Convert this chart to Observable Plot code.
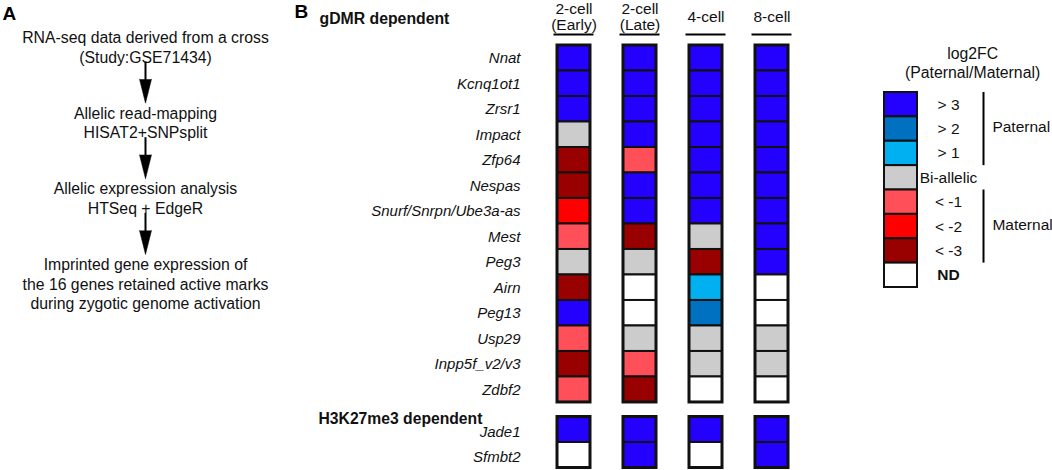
<!DOCTYPE html>
<html><head><meta charset="utf-8">
<script src="https://cdn.jsdelivr.net/npm/d3@7"></script>
<script src="https://cdn.jsdelivr.net/npm/@observablehq/plot@0.6"></script>
<style>
body{margin:0;background:#fff;}
#wrap{position:relative;width:1052px;height:470px;overflow:hidden;}
</style></head><body><div id="wrap"></div>
<script>
// ---- data ----
const stages = ["2-cell (Early)", "2-cell (Late)", "4-cell", "8-cell"];
const stageLabels = ["2-cell\n(Early)", "2-cell\n(Late)", "4-cell", "8-cell"];
const gdmrGenes = ["Nnat","Kcnq1ot1","Zrsr1","Impact","Zfp64","Nespas","Snurf/Snrpn/Ube3a-as","Mest","Peg3","Airn","Peg13","Usp29","Inpp5f_v2/v3","Zdbf2"];
const h3k27Genes = ["Jade1","Sfmbt2"];
const groupNames = ["gDMR dependent","H3K27me3 dependent"];
const levels = ["> 3","> 2","> 1","Bi-allelic","< -1","< -2","< -3","ND"];
const levelColors = ["#2400ff","#0070c0","#00b0f0","#cccccc","#ff4f58","#ff0000","#990000","#ffffff"];
const early = ["> 3","> 3","> 3","Bi-allelic","< -3","< -3","< -2","< -1","Bi-allelic","< -3","> 3","< -1","< -3","< -1","> 3","ND"];
const late  = ["> 3","> 3","> 3","> 3","< -1","> 3","> 3","< -3","Bi-allelic","ND","ND","Bi-allelic","< -1","< -3","> 3","> 3"];
const cell4 = ["> 3","> 3","> 3","> 3","> 3","> 3","> 3","Bi-allelic","< -3","> 1","> 2","Bi-allelic","Bi-allelic","ND","> 3","ND"];
const cell8 = ["> 3","> 3","> 3","> 3","> 3","> 3","> 3","> 3","> 3","ND","ND","Bi-allelic","Bi-allelic","ND","> 3","> 3"];
const legendTitle = "log2FC\n(Paternal/Maternal)";
const brackets = [{name: "Paternal", from: "> 3", to: "> 1"}, {name: "Maternal", from: "< -1", to: "< -3"}];
const flowSteps = [
  "RNA-seq data derived from a cross\n(Study:GSE71434)",
  "Allelic read-mapping\nHISAT2+SNPsplit",
  "Allelic expression analysis\nHTSeq + EdgeR",
  "Imprinted gene expression of\nthe 16 genes retained active marks\nduring zygotic genome activation"
];
const panelLetters = ["A", "B"];

// ---- derived tables ----
const FONT = "'Liberation Sans', Arial, sans-serif";
const genes = gdmrGenes.concat(h3k27Genes);
const groupGap = 0.57;
const rowPos = i => i < gdmrGenes.length ? i : i + groupGap;
const series = [early, late, cell4, cell8];
const cells = stages.flatMap((s, j) => genes.map((g, i) => ({stage: s, gene: g, group: i < gdmrGenes.length ? 0 : 1, row: rowPos(i), level: series[j][i]})));
const groups = [
  {name: groupNames[0], start: 0, end: gdmrGenes.length},
  {name: groupNames[1], start: gdmrGenes.length + groupGap, end: genes.length + groupGap}
];
const frames = stages.flatMap(s => groups.map(g => ({stage: s, start: g.start, end: g.end})));
const labelRows = cells.filter(d => d.stage === stages[0]);
const colorScale = {type: "ordinal", domain: levels, range: levelColors};
const wrap = document.getElementById("wrap");
function place(el, left, top) {
  el.style.position = "absolute"; el.style.left = left + "px"; el.style.top = top + "px";
  el.style.background = "transparent"; el.style.maxWidth = "none";
  wrap.appendChild(el);
}

// ---- panel A: flow chart ----
const flowTop = 28.5, flowBottom = 255.5;
const stepPx = (flowBottom - flowTop) / (flowSteps.length - 1);
const shaftStart = 33 / stepPx, shaftEnd = 22 / stepPx;
const flow = Plot.plot({
  width: 290, height: 330, margin: 0,
  style: {fontFamily: FONT, background: "transparent"},
  x: {domain: [0, 1], range: [0, 290], axis: null},
  y: {domain: [0, flowSteps.length - 1], range: [flowTop, flowBottom], axis: null},
  marks: [
    Plot.text(flowSteps, {y: (d, i) => i, text: d => d, lineAnchor: "top", textAnchor: "middle", fontSize: 15.8, lineHeight: 1.24, fill: "#111"}),
    Plot.ruleX(flowSteps.slice(1), {x: 0.5, y1: (d, i) => i + shaftStart, y2: (d, i) => i + 1 - shaftEnd, strokeWidth: 2, stroke: "#000"}),
    Plot.vector(flowSteps.slice(1), {x: 0.5, y: (d, i) => i + 1, length: 24, r: 6, rotate: 180, shape: "spike", anchor: "end", dy: -1.5, fill: "#000", stroke: "#000", strokeWidth: 0.5})
  ]
});
place(flow, 0, 0);

// ---- panel B: heatmap ----
const main = Plot.plot({
  width: 1052, height: 470, margin: 0,
  style: {fontFamily: FONT, background: "transparent", overflow: "visible"},
  x: {type: "band", domain: stages, range: [555.5, 789.5], paddingInner: 0.507, paddingOuter: 0, axis: null},
  y: {domain: [0, genes.length + groupGap], range: [45, 467.5], axis: null},
  color: colorScale,
  marks: [
    Plot.barY(cells, {x: "stage", y1: "row", y2: d => d.row + 1, fill: "level", stroke: "#111", strokeWidth: 2, inset: 0}),
    Plot.barY(frames, {x: "stage", y1: "start", y2: "end", fill: "none", stroke: "#111", strokeWidth: 3, inset: 0}),
    Plot.text(stages, {x: d => d, y: 0, text: (d, i) => stageLabels[i], dy: -29, lineAnchor: "middle", fontSize: 15.5, lineHeight: 1.07, fill: "#111"}),
    Plot.tickY(stages, {x: d => d, y: 0, dy: -11, insetLeft: -3.5, insetRight: -3.5, strokeWidth: 2, stroke: "#000"}),
    Plot.text(labelRows.filter(d => d.group === 0), {y: d => d.row + 0.5, text: "gene", frameAnchor: "left", dx: 520, textAnchor: "end", fontStyle: "italic", fontSize: 15, fill: "#111"}),
    Plot.text(labelRows.filter(d => d.group === 1), {y: d => d.row + 0.5, text: "gene", frameAnchor: "left", dx: 520, dy: 2, textAnchor: "end", fontStyle: "italic", fontSize: 15, fill: "#111"}),
    Plot.text(groups.slice(0, 1), {y: "start", text: "name", frameAnchor: "left", dx: 319, dy: -27, textAnchor: "start", fontWeight: "bold", fontSize: 15.8, fill: "#111"}),
    Plot.text(groups.slice(1), {y: "start", text: "name", frameAnchor: "left", dx: 318, dy: 1.5, textAnchor: "start", fontWeight: "bold", fontSize: 15.7, fill: "#111"}),
    Plot.text(panelLetters.slice(0, 1), {text: d => d, frameAnchor: "top-left", dx: 2, dy: 6, lineAnchor: "top", textAnchor: "start", fontWeight: "bold", fontSize: 19, fill: "#000"}),
    Plot.text(panelLetters.slice(1), {text: d => d, frameAnchor: "top-left", dx: 294, dy: 4, lineAnchor: "top", textAnchor: "start", fontWeight: "bold", fontSize: 19, fill: "#000"})
  ]
});
place(main, 0, 0);

// ---- legend ----
const legend = Plot.plot({
  width: 232, height: 260, marginLeft: 64, marginRight: 135, marginTop: 0, marginBottom: 0,
  style: {fontFamily: FONT, background: "transparent", overflow: "visible"},
  x: {domain: [0, 1], range: [64, 97], axis: null},
  y: {domain: [0, levels.length], range: [52, 247], axis: null},
  color: colorScale,
  marks: [
    Plot.rect(levels, {y1: (d, i) => i, y2: (d, i) => i + 1, fill: d => d, stroke: "#111", strokeWidth: 2}),
    Plot.text(levels.filter(d => d !== "ND"), {x: 1.94, y: d => levels.indexOf(d) + 0.5, text: d => d, textAnchor: "middle", fontSize: 15.5, fill: "#111"}),
    Plot.text(["ND"], {x: 1.94, y: d => levels.indexOf(d) + 0.5, text: d => d, textAnchor: "middle", fontSize: 15.5, fontWeight: "bold", fill: "#111"}),
    Plot.ruleX(brackets, {x: 3, y1: d => levels.indexOf(d.from), y2: d => levels.indexOf(d.to) + 1, strokeWidth: 2, stroke: "#000"}),
    Plot.text(brackets, {x: 3.27, y: d => (levels.indexOf(d.from) + levels.indexOf(d.to) + 1) / 2, dy: -2, text: "name", textAnchor: "start", fontSize: 15.5, fill: "#111"}),
    Plot.text([legendTitle], {x: 2.67, text: d => d, frameAnchor: "top", dy: 4, lineAnchor: "top", textAnchor: "middle", lineHeight: 1.25, fontSize: 15.8, fill: "#111"})
  ]
});
place(legend, 820, 40);
</script></body></html>
